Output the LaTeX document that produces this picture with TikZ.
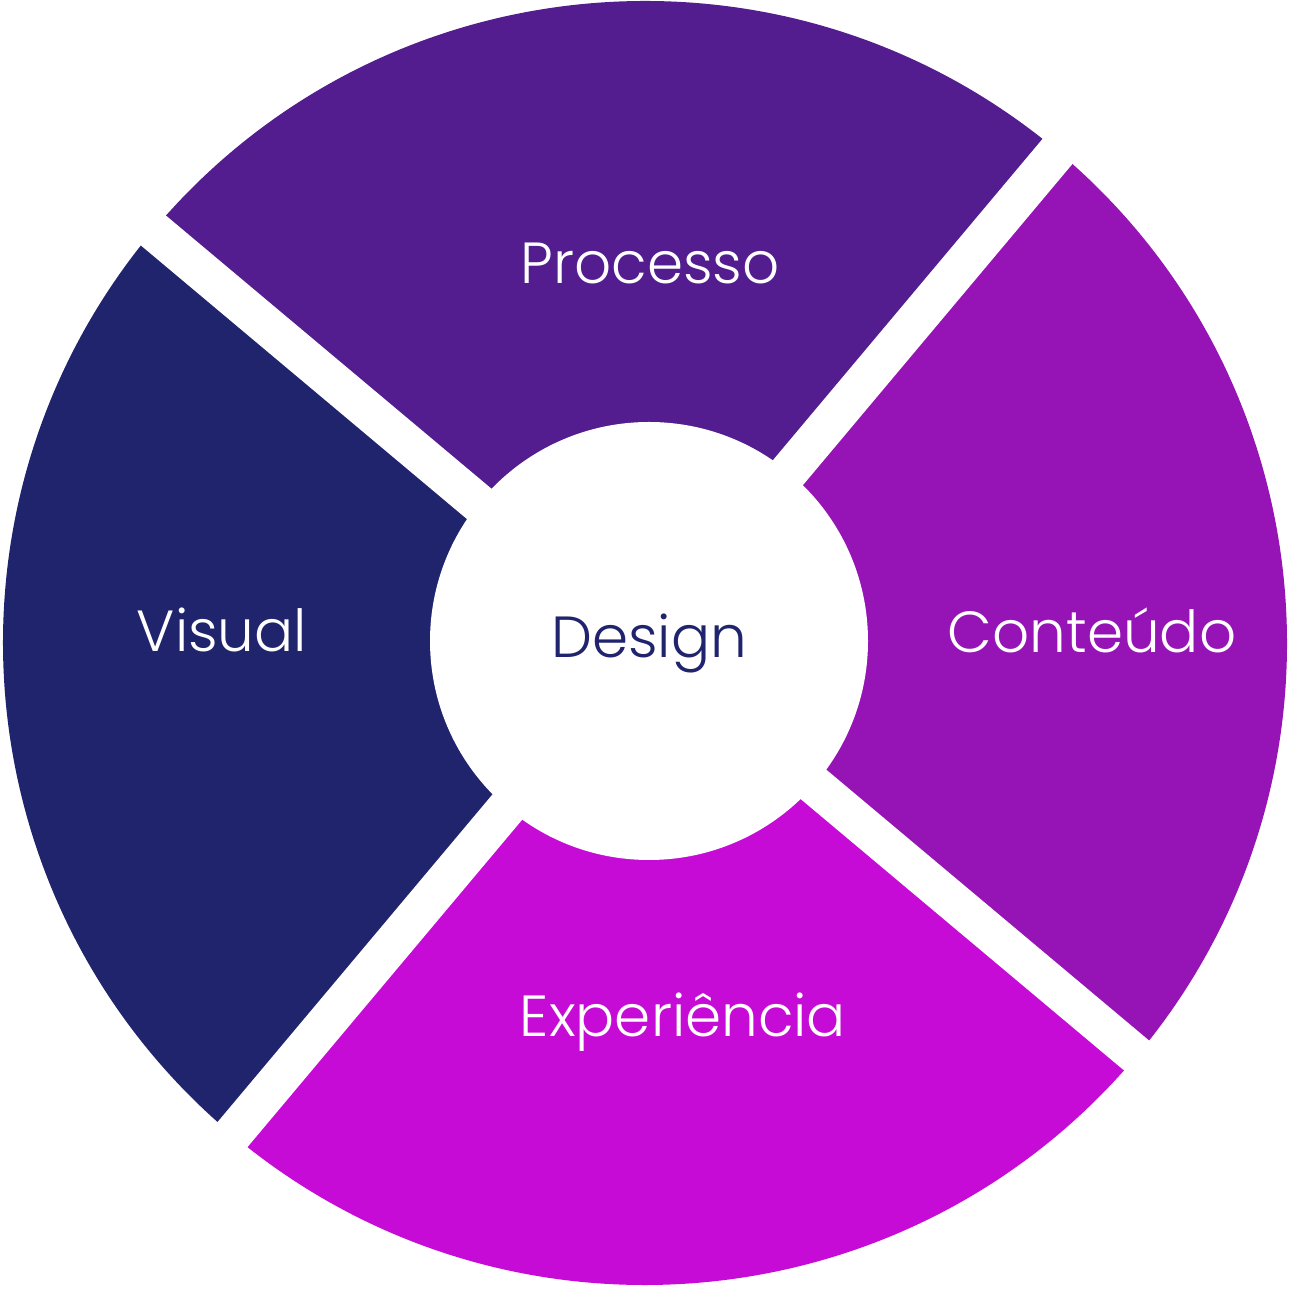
\documentclass[tikz,border=0pt]{standalone}
\usepackage{fontspec}
\setmainfont{Poppins}[UprightFont={* Light}]
\usepackage{tikz}
\usetikzlibrary{calc}

\definecolor{proc}{HTML}{531C8F}
\definecolor{cont}{HTML}{9614B6}
\definecolor{expe}{HTML}{C70BD6}
\definecolor{visu}{HTML}{1F246D}

\begin{document}
\begin{tikzpicture}[label/.style={text=white, font=\fontsize{16.5}{19}\selectfont}]
    \useasboundingbox (0,0) rectangle (12.9,12.9);
    \coordinate (c) at (6.45,6.47);
    \fill[proc] (c) -- ++(50:6.42) arc (50:140:6.42) -- cycle;
    \fill[visu] (c) -- ++(140:6.42) arc (140:230:6.42) -- cycle;
    \fill[expe] (c) -- ++(230:6.42) arc (230:320:6.42) -- cycle;
    \fill[cont] (c) -- ++(320:6.42) arc (320:410:6.42) -- cycle;
    \draw[white, line width=0.39cm] ($(c)+(50:6.6)$) -- ($(c)+(230:6.6)$);
    \draw[white, line width=0.39cm] ($(c)+(140:6.6)$) -- ($(c)+(320:6.6)$);
    \fill[white] (6.49,6.49) circle (2.19);
    \node[label] (processo) at (6.50,10.27) {Processo};
    \node[label] (conteudo) at (10.92,6.60) {Conteúdo};
    \node[label] (experiencia) at (6.83,2.68) {Experiência};
    \node[label] (visual) at (2.22,6.60) {Visual};
    \node[text=visu, font=\fontsize{16.5}{19}\selectfont] (design) at (6.49,6.47) {Design};
\end{tikzpicture}
\end{document}
